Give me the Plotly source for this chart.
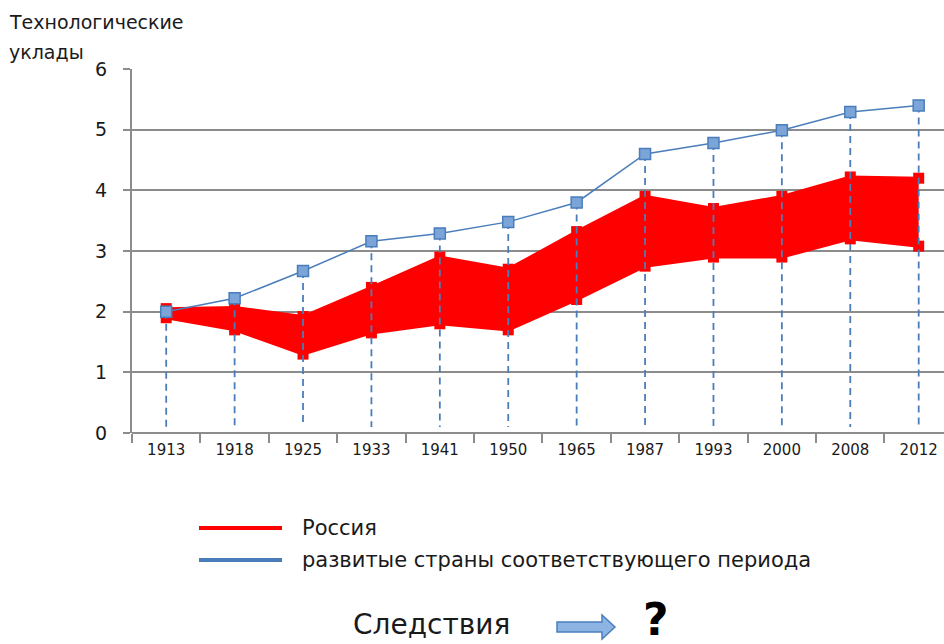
import plotly.graph_objects as go

years = ["1913", "1918", "1925", "1933", "1941", "1950", "1965", "1987", "1993", "2000", "2008", "2012"]
developed = [2.0, 2.22, 2.67, 3.16, 3.29, 3.48, 3.80, 4.60, 4.78, 4.99, 5.29, 5.40]
russia_upper = [2.05, 2.07, 1.92, 2.40, 2.90, 2.70, 3.32, 3.90, 3.70, 3.90, 4.22, 4.20]
russia_lower = [1.90, 1.70, 1.30, 1.65, 1.80, 1.70, 2.20, 2.75, 2.90, 2.90, 3.20, 3.08]
y_ticks = [0, 1, 2, 3, 4, 5, 6]
drop_bottom = 0.1

RED = "#ff0000"
BLUE = "#4a7ebb"
BLUE_FILL = "#7ba4d8"
GRID = "#8c8c8c"
FONT = "DejaVu Sans"

W, H = 944, 644
L, R, T, B = 132, 0, 69, 211
PW, PH = W - L - R, H - T - B


def px(x):
    return (x - L) / PW


def py(y):
    return (H - B - y) / PH


fig = go.Figure()

# Russia band: lower line, then upper line filled down to it
fig.add_trace(go.Scatter(
    x=years, y=russia_lower, mode="lines+markers",
    line=dict(color=RED, width=3),
    marker=dict(symbol="square", size=11, color=RED),
    showlegend=False, hoverinfo="y", name="Россия"))
fig.add_trace(go.Scatter(
    x=years, y=russia_upper, mode="lines+markers",
    line=dict(color=RED, width=3), fill="tonexty", fillcolor=RED,
    marker=dict(symbol="square", size=11, color=RED),
    showlegend=False, hoverinfo="y", name="Россия"))

# drop lines from developed-country points
dx, dy = [], []
for yr, v in zip(years, developed):
    dx += [yr, yr, None]
    dy += [v, drop_bottom, None]
fig.add_trace(go.Scatter(
    x=dx, y=dy, mode="lines",
    line=dict(color=BLUE, width=1.8, dash="7px,5px"),
    showlegend=False, hoverinfo="skip"))

fig.add_trace(go.Scatter(
    x=years, y=developed, mode="lines+markers",
    line=dict(color=BLUE, width=1.5),
    marker=dict(symbol="square", size=11, color=BLUE_FILL, line=dict(color=BLUE, width=1.5)),
    showlegend=False, name="развитые страны соответствующего периода"))

shapes = []
annotations = []

# legend (manual)
legend_items = [("Россия", RED, 528), ("развитые страны соответствующего периода", BLUE, 560)]
for label, col, yy in legend_items:
    shapes.append(dict(type="line", xref="paper", yref="paper",
                       x0=px(199), x1=px(282), y0=py(yy), y1=py(yy),
                       line=dict(color=col, width=4)))
    annotations.append(dict(text=label, xref="paper", yref="paper",
                            x=px(300), y=py(yy), xanchor="left", yanchor="middle",
                            showarrow=False, font=dict(family=FONT, size=21, color="#1a1a1a")))

# axis title
annotations.append(dict(text="Технологические", xref="paper", yref="paper",
                        x=px(7), y=py(22), xanchor="left", yanchor="middle",
                        showarrow=False, font=dict(family=FONT, size=19, color="#1a1a1a")))
annotations.append(dict(text="уклады", xref="paper", yref="paper",
                        x=px(7), y=py(52), xanchor="left", yanchor="middle",
                        showarrow=False, font=dict(family=FONT, size=19, color="#1a1a1a")))

# bottom caption
annotations.append(dict(text="Следствия", xref="paper", yref="paper",
                        x=px(351), y=py(624), xanchor="left", yanchor="middle",
                        showarrow=False, font=dict(family=FONT, size=28, color="#1a1a1a")))
annotations.append(dict(text="<b>?</b>", xref="paper", yref="paper",
                        x=px(656), y=py(619), xanchor="center", yanchor="middle",
                        showarrow=False, font=dict(family=FONT, size=44, color="#000000")))

arrow_pts = [(557, 622), (602, 622), (602, 615), (615, 627), (602, 639), (602, 632), (557, 632)]
path = "M " + " L ".join(f"{px(a):.5f},{py(b):.5f}" for a, b in arrow_pts) + " Z"
shapes.append(dict(type="path", xref="paper", yref="paper", path=path,
                   fillcolor="#8eb4e3", line=dict(color=BLUE, width=1.5)))

fig.update_layout(
    width=W, height=H,
    margin=dict(l=L, r=R, t=T, b=B),
    plot_bgcolor="white", paper_bgcolor="white",
    shapes=shapes, annotations=annotations,
    showlegend=False,
    xaxis=dict(
        type="category", range=[-0.5, 11.37],
        tickmode="array", tickvals=years, ticktext=years,
        tickson="boundaries", ticks="outside", ticklen=9, tickwidth=2, tickcolor=GRID,
        showgrid=False, showline=False, zeroline=False,
        ticklabelstandoff=6,
        tickfont=dict(family=FONT, size=15, color="#1a1a1a"),
    ),
    yaxis=dict(
        range=[0, 6], tickmode="array", tickvals=y_ticks,
        ticks="outside", ticklen=7, tickwidth=2, tickcolor=GRID,
        showgrid=True, gridcolor=GRID, gridwidth=2,
        showline=True, linecolor=GRID, linewidth=2,
        zeroline=True, zerolinecolor=GRID, zerolinewidth=2,
        ticklabelstandoff=12,
        tickfont=dict(family=FONT, size=19, color="#1a1a1a"),
    ),
)

fig.write_html("out.html", config={"displayModeBar": False},
               post_script="document.body.style.margin='0';document.body.style.overflow='hidden';")
